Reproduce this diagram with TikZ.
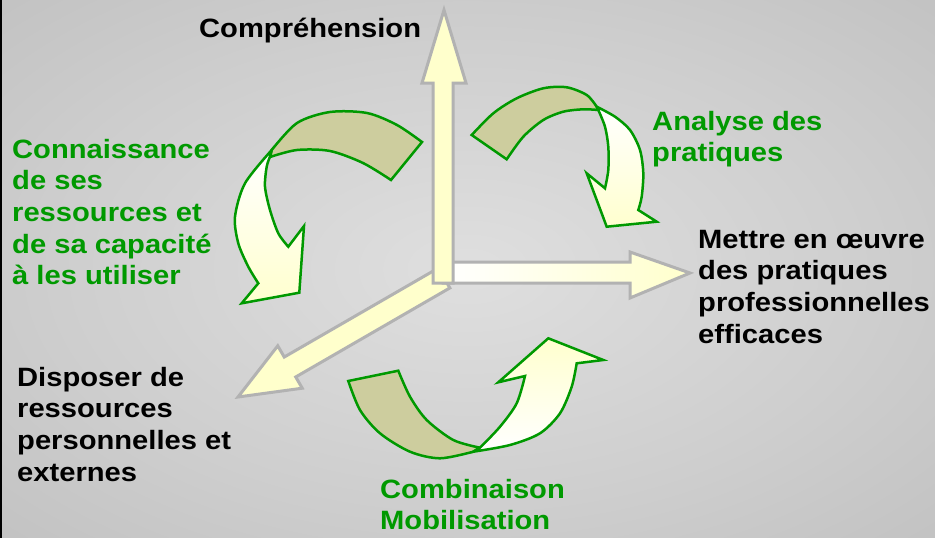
\documentclass[tikz,border=0pt]{standalone}
\usepackage{fontspec}
\newfontfamily\labfont{Liberation Sans Bold}[FakeStretch=1.1]
\definecolor{labgreen}{RGB}{0,153,0}
\definecolor{khaki}{RGB}{205,205,158}
\definecolor{axisgrey}{RGB}{178,178,178}
\definecolor{paleyellow}{RGB}{255,255,204}
\definecolor{curveyellow}{RGB}{255,255,206}
\definecolor{bgin}{RGB}{223,223,223}
\definecolor{bgmid}{RGB}{206,206,206}
\definecolor{bgout}{RGB}{182,182,182}
\definecolor{bgcorner}{RGB}{165,165,165}
\pgfdeclareradialshading{bgshade}{\pgfpoint{0bp}{0bp}}{color(0bp)=(bgin); color(22bp)=(bgmid); color(50bp)=(bgout); color(72bp)=(bgcorner)}
\begin{document}
\begin{tikzpicture}[x=1pt,y=-1pt,
  lab/.style={font=\labfont\fontsize{26.5}{31.7}\selectfont, inner sep=0pt, anchor=base west, align=left},
  greenlab/.style={lab, text=labgreen},
  blacklab/.style={lab, text=black},
  axisarrow/.style={draw=axisgrey, line width=3pt, line join=miter},
  backband/.style={fill=khaki, draw=labgreen, line width=2.5pt, line join=miter},
  frontband/.style={draw=labgreen, line width=2.5pt, line join=miter}]

\useasboundingbox (0,0) rectangle (935,538);
\shade[shading=bgshade] (0,0) rectangle (935,538);
\draw[line width=2.5pt] (1,0) -- (1,538);

% diagonal axis arrow
\shade[axisarrow, left color=paleyellow, middle color=white, right color=paleyellow]
  (438.35,268.04) -- (284.25,357.04) -- (277.75,345.8) -- (238,397) -- (302.25,388.2)
  -- (295.75,376.96) -- (449.85,287.96) -- cycle;
% horizontal axis arrow
\shade[axisarrow, left color=white, middle color=white, right color=paleyellow]
  (443,262) -- (630,262) -- (630,252) -- (690,273) -- (630,298) -- (630,283) -- (443,283) -- cycle;
% vertical axis arrow
\shade[axisarrow, top color=paleyellow, middle color=white, bottom color=paleyellow]
  (433,283) -- (433,83) -- (422,83) -- (444,10) -- (466,83) -- (453,83) -- (453,283) -- cycle;

% curved arrow 1 (left)
\filldraw[backband]
  plot[smooth] coordinates {(271.7,150) (297,123) (330,112) (367,113) (397,125) (422,142)}
  -- (391,180)
  -- plot[smooth] coordinates {(391,180) (363,163) (330,151) (297,150) (270,157)} -- cycle;
\shade[frontband, top color=white, bottom color=curveyellow]
  plot[smooth] coordinates {(271.7,150) (245,183.3) (235,216.7) (238.3,243.3) (248.3,266.7) (258.3,283.3)}
  -- (241.7,303.3) -- (299.3,292.7) -- (304,226) -- (288.3,246.7)
  -- plot[smooth] coordinates {(288.3,246.7) (278.3,233.3) (270,210) (265,186.7) (266.7,166.7) (270,156.7)}
  -- cycle;

% curved arrow 2 (top right)
\filldraw[backband]
  plot[smooth] coordinates {(471.7,135) (493.3,113.3) (516.7,98.3) (543.3,88.3) (566.7,87.3) (586.7,95) (596.7,106.7)}
  -- (598.3,110)
  -- plot[smooth] coordinates {(598.3,110) (583.3,109.3) (563.3,111.7) (543.3,120) (523.3,136.7) (506.7,159.3)} -- cycle;
\shade[frontband, top color=white, bottom color=curveyellow]
  plot[smooth] coordinates {(596.7,106.7) (615,116.7) (630,130) (640,150) (643.3,173.3) (641.7,196.7) (638.3,210)}
  -- (656.7,221.7) -- (606.7,226.7) -- (586.7,173.3) -- (605,188.3)
  -- plot[smooth] coordinates {(605,188.3) (608.3,170) (608.3,146.7) (605,126.7) (598.3,110)}
  -- cycle;

% curved arrow 3 (bottom)
\filldraw[backband]
  plot[smooth] coordinates {(348.3,381) (360,410) (380,433.3) (410,451.7) (440,458.3) (473.3,451.7)}
  -- (480,447.7)
  -- plot[smooth] coordinates {(480,447.7) (453.3,440) (426.7,420) (410,396.7) (398.3,370.7)} -- cycle;
\shade[frontband, top color=curveyellow, bottom color=white]
  plot[smooth] coordinates {(473.3,451.7) (510,445) (540,433.3) (560,413.3) (571.7,386.7) (576.7,363.3)}
  -- (603.3,360) -- (548.3,338.3) -- (498.3,382.3) -- (525,376)
  -- plot[smooth] coordinates {(525,376) (516.7,403.3) (500,426.7) (480,447.7)}
  -- cycle;

% labels (anchor = baseline of the last line)
\node[blacklab] (comp) at (199,37) {Compréhension};
\node[greenlab] (conn) at (12,284.8) {Connaissance\\de ses\\ressources et\\de sa capacité\\à les utiliser};
\node[greenlab] (analyse) at (652,161.7) {Analyse des\\pratiques};
\node[blacklab] (mettre) at (698,343.1) {Mettre en œuvre\\des pratiques\\professionnelles\\efficaces};
\node[blacklab] (disposer) at (17,481.1) {Disposer de\\ressources\\personnelles et\\externes};
\node[greenlab] (combi) at (380,529.7) {Combinaison\\Mobilisation};
\end{tikzpicture}
\end{document}
